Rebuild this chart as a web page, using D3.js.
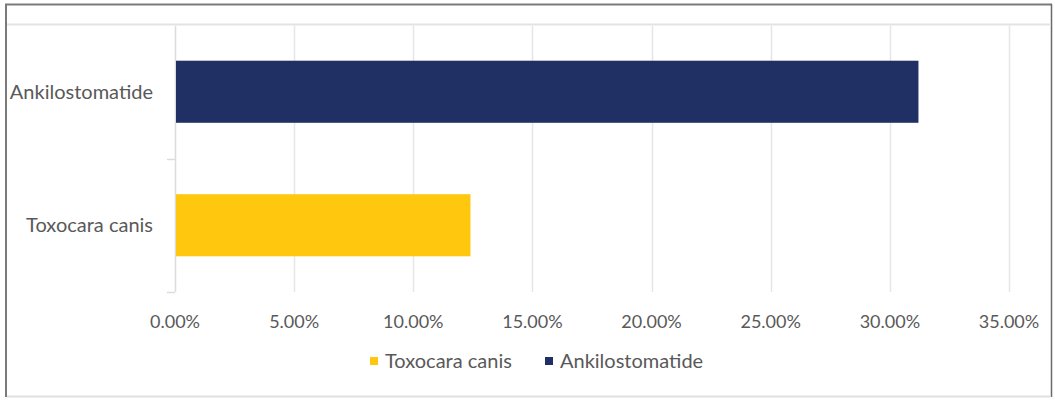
<!DOCTYPE html>
<html>
<head>
<meta charset="utf-8">
<script src="https://cdn.jsdelivr.net/npm/d3@7"></script>
<style>
  html, body { margin: 0; padding: 0; background: #fff; }
  text { font-family: Lato, "Open Sans", sans-serif; fill: #595959; }
</style>
</head>
<body>
<div id="chart"></div>
<script>
// Data
const categories = ['Ankilostomatide', 'Toxocara canis'];
const values = [0.312, 0.124];
const colors = ['#203064', '#FFC70D'];
const legendOrder = ['Toxocara canis', 'Ankilostomatide'];
const xTicks = [0, 0.05, 0.10, 0.15, 0.20, 0.25, 0.30, 0.35];

const width = 1055, height = 400;
const plot = { left: 175, right: 1009, top: 25, bottom: 292 };

const svg = d3.select('#chart')
  .append('svg')
  .attr('width', width)
  .attr('height', height);

// outer frame
svg.append('rect').attr('x', 0).attr('y', 0).attr('width', width).attr('height', height).attr('fill', '#fff');
svg.append('line').attr('x1', 5).attr('x2', 1052).attr('y1', 4.5).attr('y2', 4.5).attr('stroke', '#7a7a7a').attr('stroke-width', 2);
svg.append('line').attr('x1', 6).attr('x2', 6).attr('y1', 4).attr('y2', 397).attr('stroke', '#7a7a7a').attr('stroke-width', 2);
svg.append('line').attr('x1', 1051.5).attr('x2', 1051.5).attr('y1', 4).attr('y2', 397).attr('stroke', '#6a6a6a').attr('stroke-width', 1.5);
svg.append('line').attr('x1', 7).attr('x2', 1051).attr('y1', 24.5).attr('y2', 24.5).attr('stroke', '#e3e3e3').attr('stroke-width', 2);
svg.append('line').attr('x1', 7).attr('x2', 1051).attr('y1', 396.5).attr('y2', 396.5).attr('stroke', '#e0e0e0').attr('stroke-width', 2);

const x = d3.scaleLinear().domain([0, 0.35]).range([plot.left, plot.right]);
const y = d3.scaleBand().domain(categories).range([plot.top, plot.bottom]).paddingInner(0.535).paddingOuter(0.2675);
const yOuter = d3.scaleBand().domain(categories).range([plot.top, plot.bottom]);
const color = d3.scaleOrdinal().domain(categories).range(colors);

// gridlines
svg.append('g')
  .selectAll('line')
  .data(xTicks.slice(1))
  .join('line')
  .attr('x1', d => Math.round(x(d)) + 0.5)
  .attr('x2', d => Math.round(x(d)) + 0.5)
  .attr('y1', plot.top + 1)
  .attr('y2', plot.bottom)
  .attr('stroke', '#e6e6e6')
  .attr('stroke-width', 1.5);

// category axis line and ticks
svg.append('line')
  .attr('x1', plot.left + 0.5).attr('x2', plot.left + 0.5)
  .attr('y1', plot.top + 1).attr('y2', plot.bottom)
  .attr('stroke', '#dcdcdc').attr('stroke-width', 1.5);
const boundaries = [yOuter(categories[1]), plot.bottom];
svg.append('g')
  .selectAll('line')
  .data(boundaries)
  .join('line')
  .attr('x1', plot.left - 8).attr('x2', plot.left)
  .attr('y1', d => Math.round(d) + 0.5).attr('y2', d => Math.round(d) + 0.5)
  .attr('stroke', '#dcdcdc').attr('stroke-width', 1.5);

// bars
svg.append('g')
  .selectAll('rect')
  .data(categories)
  .join('rect')
  .attr('x', x(0) + 1)
  .attr('y', d => y(d))
  .attr('width', (d, i) => x(values[i]) - x(0) - 1)
  .attr('height', y.bandwidth())
  .attr('fill', d => color(d));

// category labels
svg.append('g')
  .selectAll('text')
  .data(categories)
  .join('text')
  .attr('x', 153)
  .attr('y', d => yOuter(d) + yOuter.bandwidth() / 2)
  .attr('dy', '0.35em')
  .attr('text-anchor', 'end')
  .style('font-size', '20px')
  .text(d => d);

// x tick labels
const fmt = d3.format('.2%');
svg.append('g')
  .selectAll('text')
  .data(xTicks)
  .join('text')
  .attr('x', d => x(d))
  .attr('y', 322)
  .attr('dy', '0.35em')
  .attr('text-anchor', 'middle')
  .style('font-size', '18px')
  .text(d => fmt(d));

// legend
const legendX = [370, 545];
const legend = svg.append('g')
  .selectAll('g')
  .data(legendOrder)
  .join('g')
  .attr('transform', (d, i) => `translate(${legendX[i]},361)`);
legend.append('rect')
  .attr('x', 0).attr('y', -4).attr('width', 8).attr('height', 8)
  .attr('fill', d => color(d));
legend.append('text')
  .attr('x', 15).attr('y', 0).attr('dy', '0.35em')
  .style('font-size', '20px')
  .text(d => d);
</script>
</body>
</html>
